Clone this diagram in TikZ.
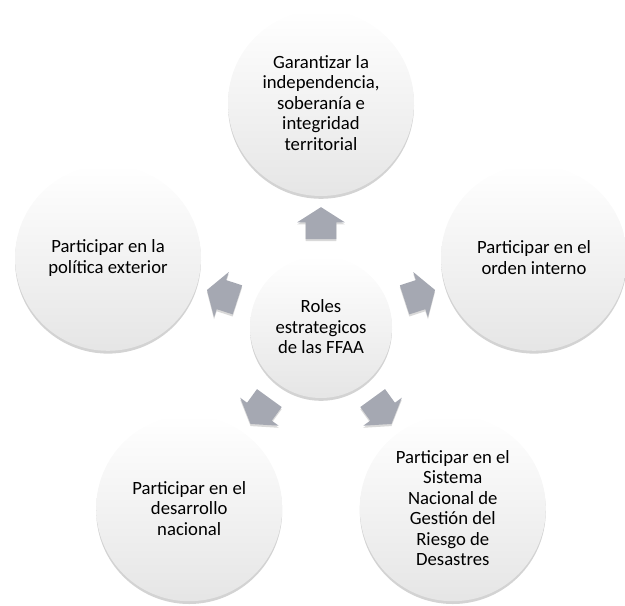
\documentclass[tikz,border=0pt]{standalone}
\usepackage{fontspec}
\setmainfont{Carlito}
\usetikzlibrary{shapes.arrows,shadows}

\definecolor{gris}{RGB}{165,168,178}

\tikzset{
    rol/.style={circle,inner sep=0pt,align=center,top color=white,bottom color=black!10,
        drop shadow={shadow xshift=0pt,shadow yshift=-2pt,opacity=0.35},
        font=\fontsize{13.3}{14.6}\selectfont},
    flecha/.style={single arrow,fill=gris,draw=none,minimum height=0.8cm,inner xsep=0pt,
        inner ysep=0.375cm,single arrow head extend=0.2125cm,single arrow tip angle=115,
        drop shadow={shadow xshift=0pt,shadow yshift=-1.5pt,opacity=0.3}}
}

\begin{document}
\begin{tikzpicture}
            \useasboundingbox (0, 0) rectangle (15.625, 15.125);

            \node[rol,minimum size=3.55cm] (C) at (8.025, 6.95) { Roles\\ estrategicos\\ de las FFAA };

            \node[rol,minimum size=4.65cm] (T) at (8.025, 12.55) { Garantizar la\\ independencia,\\ soberanía e\\ integridad\\ territorial };
            \node[rol,minimum size=4.65cm] (L) at (2.70, 8.68) { Participar en la\\ política exterior };
            \node[rol,minimum size=4.65cm] (R) at (13.35, 8.68) { Participar en el\\ orden interno };
            \node[rol,minimum size=4.65cm] (BL) at (4.73, 2.42) { Participar en el\\ desarrollo\\ nacional };
            \node[rol,minimum size=4.65cm] (BR) at (11.32, 2.42) { Participar en el\\ Sistema\\ Nacional de\\ Gestión del\\ Riesgo de\\ Desastres };

            \node[flecha,rotate=90] (aT) at (8.025, 9.425) {};
            \node[flecha,rotate=162] (aL) at (5.671, 7.715) {};
            \node[flecha,rotate=18] (aR) at (10.379, 7.715) {};
            \node[flecha,rotate=234] (aBL) at (6.570, 4.948) {};
            \node[flecha,rotate=306] (aBR) at (9.480, 4.948) {};
        \end{tikzpicture}
\end{document}
